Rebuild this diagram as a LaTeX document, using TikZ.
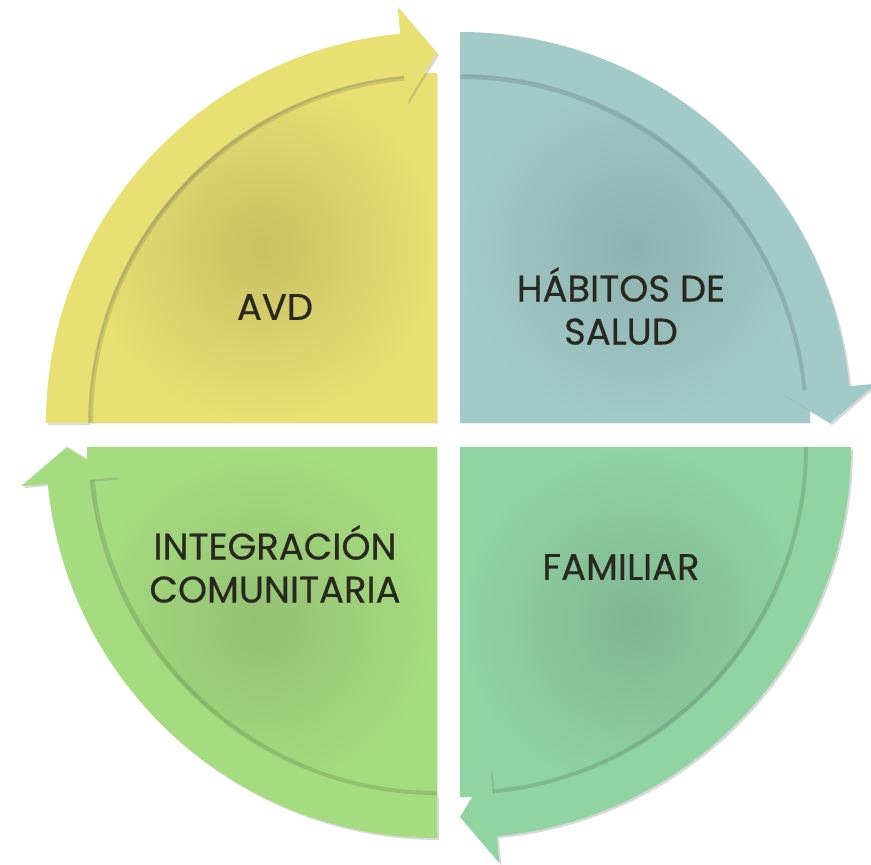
\documentclass[tikz,border=0pt]{standalone}
\usepackage{fontspec}
\setmainfont{Poppins}
\usetikzlibrary{shadows}
\definecolor{avdout}{RGB}{232,224,114}
\definecolor{avdin}{RGB}{200,192,100}
\definecolor{habout}{RGB}{162,202,200}
\definecolor{habin}{RGB}{142,178,176}
\definecolor{famout}{RGB}{144,212,162}
\definecolor{famin}{RGB}{128,182,146}
\definecolor{intout}{RGB}{166,220,128}
\definecolor{intin}{RGB}{148,192,114}
\definecolor{label}{RGB}{40,40,30}
\tikzset{
  softshadow/.style={drop shadow={opacity=0.15, shadow xshift=1.5pt, shadow yshift=-1.5pt}},
  bandshadow/.style={drop shadow={opacity=0.3, shadow xshift=2pt, shadow yshift=-2pt}},
  quadtext/.style={text=label, align=center,
    font=\addfontfeatures{FakeBold=0.5}\fontsize{37}{43}\selectfont}
}
% one quarter: body plus curved arrow band, corner at the origin
\newcommand{\quarterarrow}[2]{%
  \shade[softshadow, inner color=#2, outer color=#1]
    (0,0) -- (180:350) arc[start angle=180, end angle=90, radius=350] -- cycle;
  % soft edge under the band
  \draw[black, opacity=0.12, line width=4pt] (180:346) arc[start angle=180, end angle=95.4, radius=346];
  \fill[bandshadow, #1] (180:391) arc[start angle=180, end angle=95.4, radius=391]
    -- (95.4:418) -- (90:370) -- (95.4:322) -- (95.4:349)
    arc[start angle=95.4, end angle=180, radius=349] -- cycle;
}
\begin{document}
\begin{tikzpicture}[x=1pt, y=1pt]
  \useasboundingbox (0,0) rectangle (871,865);
  % top left
  \begin{scope}[shift={(437,442)}]
    \quarterarrow{avdout}{avdin}
  \end{scope}
  % top right
  \begin{scope}[shift={(460,442)}, rotate=-90]
    \quarterarrow{habout}{habin}
  \end{scope}
  % bottom right
  \begin{scope}[shift={(460,418)}, rotate=180]
    \quarterarrow{famout}{famin}
  \end{scope}
  % bottom left
  \begin{scope}[shift={(437,418)}, rotate=90]
    \quarterarrow{intout}{intin}
  \end{scope}
  \node[quadtext] (avd) at (275,558) {AVD};
  \node[quadtext] (habitos) at (621,559) {HÁBITOS DE\\SALUD};
  \node[quadtext] (familiar) at (621,298) {FAMILIAR};
  \node[quadtext] (integracion) at (275,301) {INTEGRACIÓN\\COMUNITARIA};
\end{tikzpicture}
\end{document}
